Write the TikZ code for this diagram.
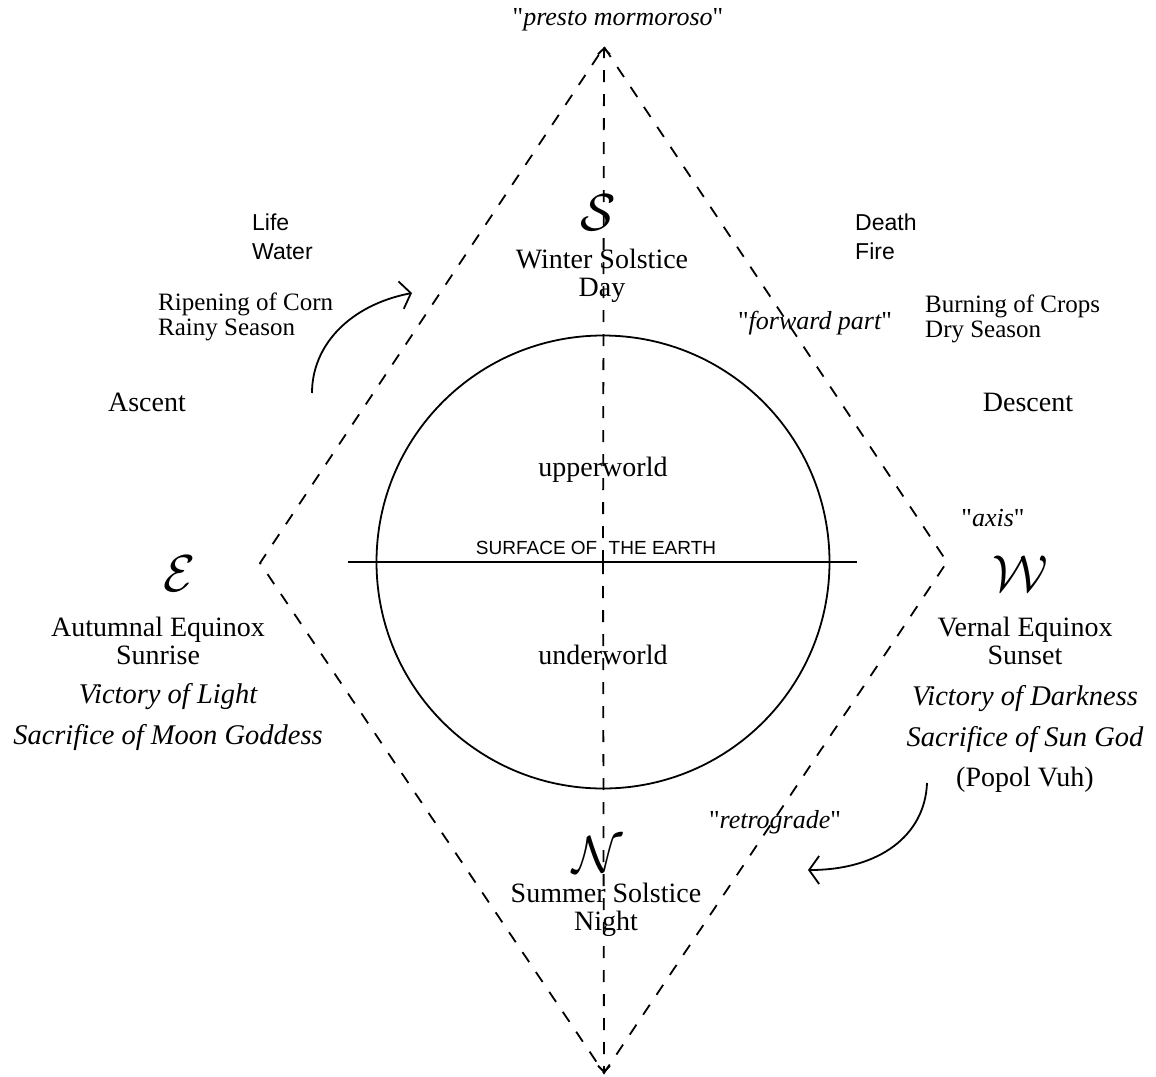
\documentclass[tikz,border=0pt]{standalone}
\usepackage{fontspec}
\setmainfont{Liberation Serif}
\setsansfont{Liberation Sans}
\usetikzlibrary{arrows.meta}
\newcommand{\qq}{{\upshape\textquotedbl}}
\begin{document}
\begin{tikzpicture}[x=1pt,y=-1pt,
  lbl/.style={font=\fontsize{28}{28}\selectfont, align=center, inner sep=0pt},
  lblit/.style={font=\itshape\fontsize{28.5}{41}\selectfont, align=center, inner sep=0pt},
  smalllbl/.style={font=\fontsize{25}{25}\selectfont, align=left, inner sep=0pt, anchor=west},
  sanslbl/.style={font=\sffamily\fontsize{23}{29}\selectfont, align=left, inner sep=0pt, anchor=west},
  quotelbl/.style={font=\itshape\fontsize{26}{26}\selectfont, inner sep=0pt},
  callbl/.style={font=\fontsize{10}{10}\selectfont, inner sep=0pt, scale=5.2},
  dashline/.style={line width=1.8pt, dash pattern=on 12pt off 12pt},
  smalltip/.style={-{Straight Barb[length=6pt,width=12pt,line width=1.8pt]}},
  bigtip/.style={-{Straight Barb[length=10pt,width=28pt,line width=1.8pt]}}
]
\useasboundingbox (0,0) rectangle (1156,1076);
% key points
\coordinate (top) at (604,47);
\coordinate (bot) at (604,1073);
\coordinate (lft) at (260,563);
\coordinate (rgt) at (947,562);
\coordinate (ctr) at (603,562);
% diamond
\draw[dashline] (top) -- (rgt) -- (bot) -- (lft) -- cycle;
% vertical axis
\draw[dashline, smalltip] (ctr) -- (top);
\draw[dashline, smalltip] (ctr) -- (bot);
% earth
\node[draw, circle, line width=1.8pt, minimum size=453pt, inner sep=0pt] (earth) at (ctr) {};
\coordinate (hl) at (348,562);
\coordinate (hr) at (857,562);
\draw[line width=1.8pt] (hl) -- (hr);
\node[font=\sffamily\fontsize{19}{19}\selectfont, inner sep=0pt] (surf) at (596,548) {SURFACE OF\hspace{0.6em}THE EARTH};
\node[lbl] (upper) at (603,470) {upperworld};
\node[lbl] (under) at (603,655) {underworld};
% top
\node[quotelbl] (presto) at (618,20) {\qq presto mormoroso\qq};
\node[callbl] (S) at (598,213) {$\mathcal{S}$};
\node[lbl] (winter) at (602,276) {Winter Solstice\\Day};
\node[sanslbl] (life) at (252,237) {Life\\Water};
\node[sanslbl] (death) at (855,237) {Death\\Fire};
\node[smalllbl] (corn) at (158,317) {Ripening of Corn\\Rainy Season};
\node[smalllbl] (crops) at (925,319) {Burning of Crops\\Dry Season};
\node[quotelbl] (forward) at (815,323) {\qq forward part\qq};
\node[lbl] (ascent) at (147,402) {Ascent};
\node[lbl] (descent) at (1028,402) {Descent};
% east
\node[callbl] (E) at (180,574) {$\mathcal{E}$};
\node[lbl] (autumn) at (158,641) {Autumnal Equinox\\Sunrise};
\node[lblit] (victL) at (168,717) {Victory of Light\\Sacrifice of Moon Goddess};
% west
\node[quotelbl] (axis) at (993,518) {\qq axis\qq};
\node[callbl] (W) at (1020,574) {$\mathcal{W}$};
\node[lbl] (vernal) at (1025,641) {Vernal Equinox\\Sunset};
\node[lblit] (victD) at (1025,719) {Victory of Darkness\\Sacrifice of Sun God};
\node[lbl] (popol) at (1025,780) {(Popol Vuh)};
% north
\node[quotelbl] (retro) at (775,822) {\qq retrograde\qq};
\node[callbl] (N) at (598,855) {$\mathcal{N}$};
\node[lbl] (summer) at (606,910) {Summer Solstice\\Night};
% curved arrows
\coordinate (a1s) at (312,393);
\coordinate (a1e) at (412,293);
\draw[line width=1.8pt, bigtip] (a1s) .. controls (312,345) and (350,305) .. (a1e);
\coordinate (a2s) at (927,783);
\coordinate (a2e) at (808,870);
\draw[line width=1.8pt, bigtip] (a2s) .. controls (925,835) and (880,870) .. (a2e);
\end{tikzpicture}
\end{document}
